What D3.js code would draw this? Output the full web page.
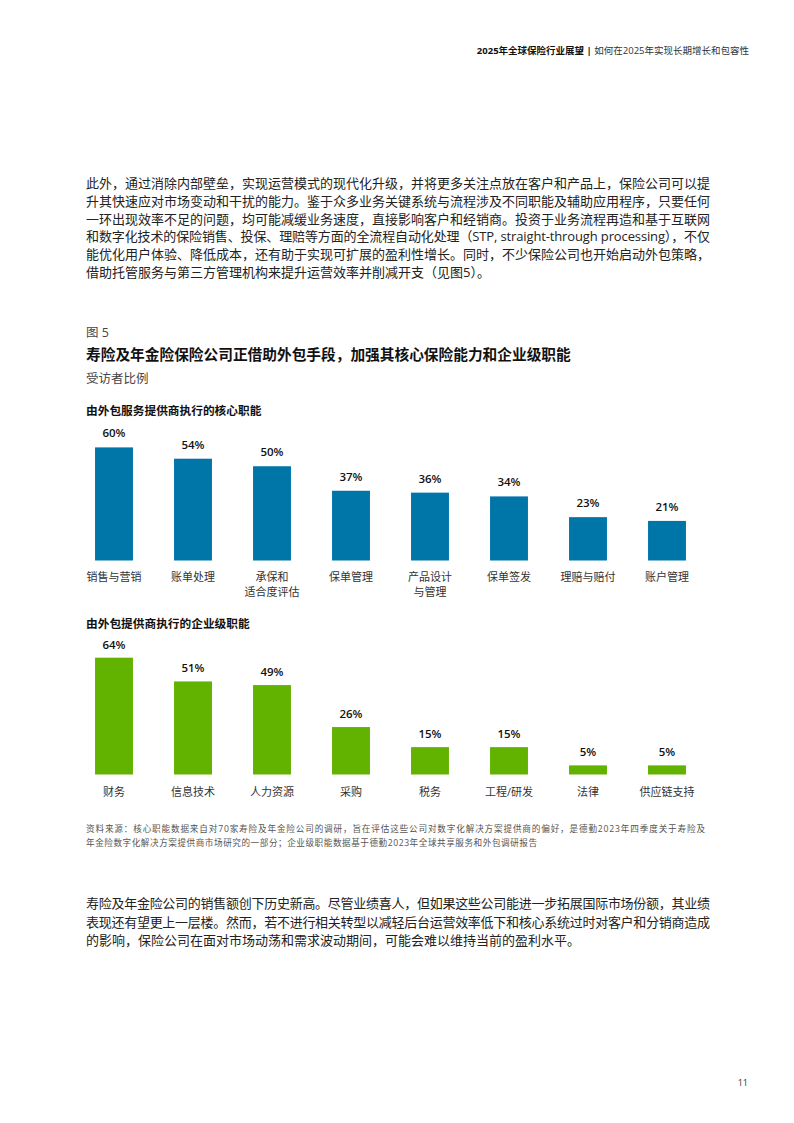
<!DOCTYPE html>
<html><head><meta charset="utf-8">
<script src="https://cdn.jsdelivr.net/npm/d3@7/dist/d3.min.js"></script>
<style>
body{margin:0;background:#fff;}
svg{display:block;font-family:"Open Sans","Noto Sans CJK SC",sans-serif;}
</style></head>
<body>
<svg id="page" width="794" height="1123"></svg>
<script>
// ---------- data ----------
const coreCategories = [["销售与营销"],["账单处理"],["承保和","适合度评估"],["保单管理"],["产品设计","与管理"],["保单签发"],["理赔与赔付"],["账户管理"]];
const coreValues = [60,54,50,37,36,34,23,21];
const entCategories = [["财务"],["信息技术"],["人力资源"],["采购"],["税务"],["工程/研发"],["法律"],["供应链支持"]];
const entValues = [64,51,49,26,15,15,5,5];

const headerBold = "2025年全球保险行业展望";
const headerSep = "|";
const headerNormal = "如何在2025年实现长期增长和包容性";
const para1 = [
 "此外，通过消除内部壁垒，实现运营模式的现代化升级，并将更多关注点放在客户和产品上，保险公司可以提",
 "升其快速应对市场变动和干扰的能力。鉴于众多业务关键系统与流程涉及不同职能及辅助应用程序，只要任何",
 "一环出现效率不足的问题，均可能减缓业务速度，直接影响客户和经销商。投资于业务流程再造和基于互联网",
 "和数字化技术的保险销售、投保、理赔等方面的全流程自动化处理（STP, straight-through processing），不仅",
 "能优化用户体验、降低成本，还有助于实现可扩展的盈利性增长。同时，不少保险公司也开始启动外包策略，",
 "借助托管服务与第三方管理机构来提升运营效率并削减开支（见图5）。"
];
const figLabel = "图 5";
const title = "寿险及年金险保险公司正借助外包手段，加强其核心保险能力和企业级职能";
const subtitle = "受访者比例";
const coreTitle = "由外包服务提供商执行的核心职能";
const entTitle = "由外包提供商执行的企业级职能";
const source = [
 "资料来源：核心职能数据来自对70家寿险及年金险公司的调研，旨在评估这些公司对数字化解决方案提供商的偏好，是德勤2023年四季度关于寿险及",
 "年金险数字化解决方案提供商市场研究的一部分；企业级职能数据基于德勤2023年全球共享服务和外包调研报告"
];
const para2 = [
 "寿险及年金险公司的销售额创下历史新高。尽管业绩喜人，但如果这些公司能进一步拓展国际市场份额，其业绩",
 "表现还有望更上一层楼。然而，若不进行相关转型以减轻后台运营效率低下和核心系统过时对客户和分销商造成",
 "的影响，保险公司在面对市场动荡和需求波动期间，可能会难以维持当前的盈利水平。"
];
const pageNum = "11";

// ---------- drawing ----------
const svg = d3.select("#page");
const textColor = "#222";

// header
const hdr = svg.append("text").attr("x", 749).attr("y", 50).attr("text-anchor","end")
  .attr("dominant-baseline","central").attr("font-size", 9.5).attr("fill", "#111");
hdr.append("tspan").attr("font-weight", 700).text(headerBold + " ");
hdr.append("tspan").attr("font-weight", 700).text(headerSep + " ");
hdr.append("tspan").attr("fill","#333").text(headerNormal);

function paragraph(lines, x, y0, lh, size, width, color, lastJust){
  lines.forEach((l,i)=>{
    const t = svg.append("text").attr("x", x).attr("y", y0 + i*lh)
      .attr("dominant-baseline","central").attr("font-size", size).attr("fill", color).text(l);
    if (i < lines.length-1 || lastJust) t.attr("textLength", width).attr("lengthAdjust","spacing");
  });
}
paragraph(para1, 86, 183, 17.8, 13, 624, textColor, false);

svg.append("text").attr("x",86).attr("y",332.5).attr("dominant-baseline","central")
  .attr("font-size",12.5).attr("fill","#444").text(figLabel);
svg.append("text").attr("x",86).attr("y",354).attr("dominant-baseline","central")
  .attr("font-size",14.7).attr("font-weight",700).attr("fill","#111").text(title);
svg.append("text").attr("x",86).attr("y",378).attr("dominant-baseline","central")
  .attr("font-size",12.5).attr("fill","#444").text(subtitle);

function barChart(cfg){
  svg.append("text").attr("x",86).attr("y",cfg.titleY).attr("dominant-baseline","central")
    .attr("font-size",11.7).attr("font-weight",700).attr("fill","#111").text(cfg.title);
  const x = d3.scaleBand().domain(d3.range(cfg.values.length))
    .range([74.5, 706.5]).paddingInner(0.52).paddingOuter(0.26);
  const y = d3.scaleLinear().domain([0,100]).range([cfg.base, cfg.base - cfg.pxPerPct*100]);
  const g = svg.append("g");
  g.selectAll("rect").data(cfg.values).join("rect")
    .attr("x",(d,i)=>x(i)).attr("width",x.bandwidth())
    .attr("y",d=>y(d)).attr("height",d=>y(0)-y(d)).attr("fill",cfg.color);
  g.selectAll("text.val").data(cfg.values).join("text").attr("class","val")
    .attr("x",(d,i)=>x(i)+x.bandwidth()/2).attr("y",d=>y(d)-cfg.valOff)
    .attr("text-anchor","middle").attr("dominant-baseline","central")
    .attr("font-size",11.5).attr("font-weight",600).attr("fill","#111").text(d=>d+"%");
  cfg.cats.forEach((lines,i)=>{
    lines.forEach((l,j)=>{
      g.append("text").attr("x",x(i)+x.bandwidth()/2).attr("y",cfg.base+cfg.catOff+j*15)
        .attr("text-anchor","middle").attr("dominant-baseline","central")
        .attr("font-size",11).attr("fill","#333").text(l);
    });
  });
}
barChart({title:coreTitle, titleY:410, values:coreValues, cats:coreCategories,
  base:560.5, pxPerPct:1.885, color:"#0076A8", valOff:14.5, catOff:16});
barChart({title:entTitle, titleY:623, values:entValues, cats:entCategories,
  base:774.5, pxPerPct:1.825, color:"#62B300", valOff:13.5, catOff:17});

// source note
source.forEach((l,i)=>{
  const t = svg.append("text").attr("x",86).attr("y",829+i*14).attr("dominant-baseline","central")
    .attr("font-size",8.6).attr("fill","#555").text(l);
  if(i===0) t.attr("textLength",619).attr("lengthAdjust","spacing");
  else t.attr("letter-spacing",0.55);
});

paragraph(para2, 86, 903, 18.5, 13, 624, textColor, false);

svg.append("text").attr("x",748).attr("y",1082).attr("text-anchor","end").attr("dominant-baseline","central")
  .attr("font-size",9).attr("fill","#333").text(pageNum);
</script>
</body></html>
